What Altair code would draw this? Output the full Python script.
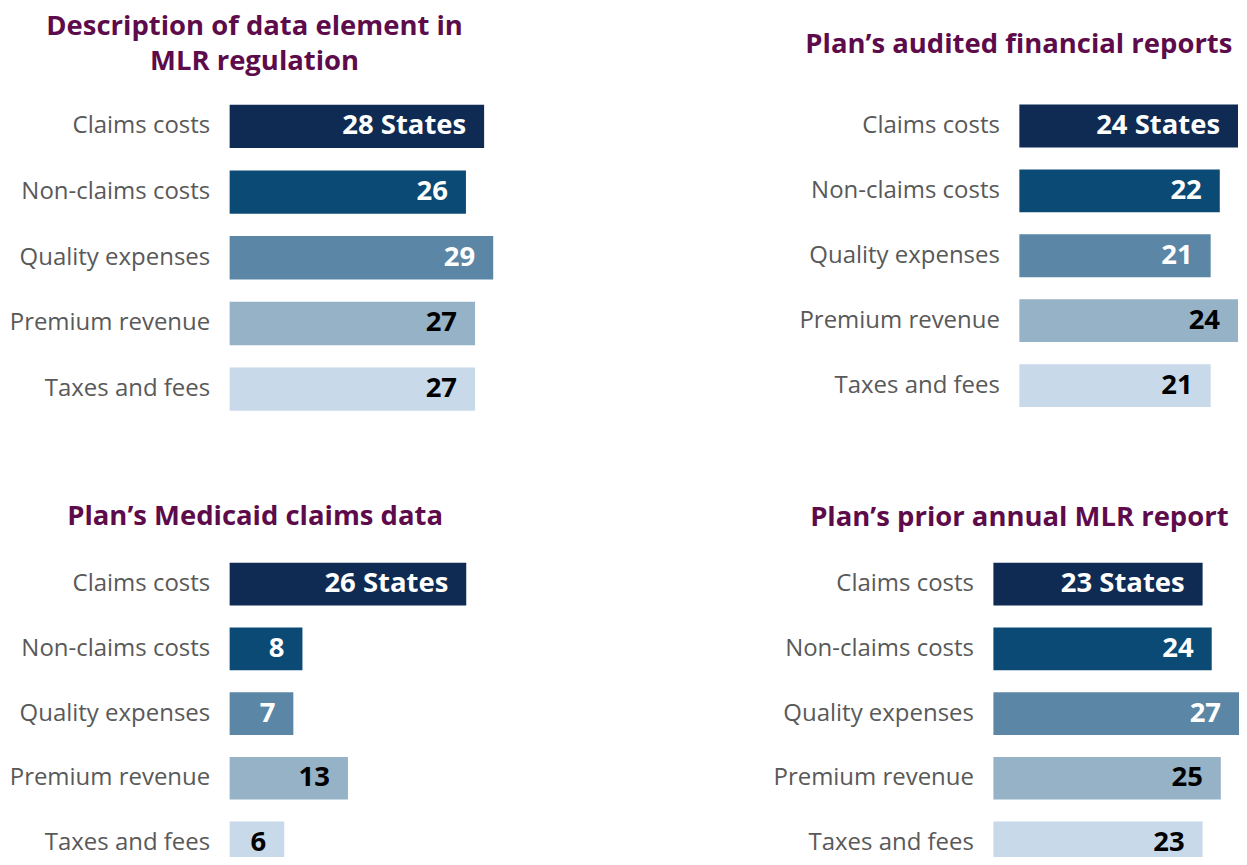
import altair as alt
import pandas as pd

categories = ["Claims costs", "Non-claims costs", "Quality expenses", "Premium revenue", "Taxes and fees"]
mlr_regulation = [28, 26, 29, 27, 27]
audited_reports = [24, 22, 21, 24, 21]
medicaid_claims = [26, 8, 7, 13, 6]
prior_mlr_report = [23, 24, 27, 25, 23]

bar_colors = ["#0F2B54", "#0B4A74", "#5B86A5", "#95B2C6", "#C8D9E9"]
dark_text_cats = ["Premium revenue", "Taxes and fees"]

FONT = "Open Sans"
TITLE_COLOR = "#5E0B4B"
LABEL_COLOR = "#595959"


def make_df(values):
    labels = [f"{v} States" if i == 0 else f"{v}" for i, v in enumerate(values)]
    return pd.DataFrame({"category": categories, "value": values, "label": labels})


def panel(values, title_lines, width, height, domain, dx, offset, axis_offset=0):
    df = make_df(values)
    base = alt.Chart(df).encode(
        y=alt.Y(
            "category:N",
            sort=categories,
            scale=alt.Scale(paddingInner=0.34, paddingOuter=0.17),
            axis=alt.Axis(
                title=None, domain=False, ticks=False, grid=False,
                labelFont=FONT, labelFontSize=24, labelColor=LABEL_COLOR,
                labelPadding=20, labelLimit=400, offset=axis_offset,
            ),
        ),
        x=alt.X("value:Q", scale=alt.Scale(domain=domain, nice=False, zero=True), axis=None),
    )
    bars = base.mark_bar().encode(
        color=alt.Color("category:N", scale=alt.Scale(domain=categories, range=bar_colors), legend=None)
    )
    text = base.mark_text(align="right", baseline="middle", dx=-18, font=FONT, fontSize=27.5, fontWeight="bold").encode(
        text="label:N",
        color=alt.condition(
            alt.FieldOneOfPredicate(field="category", oneOf=dark_text_cats),
            alt.value("#000000"),
            alt.value("#FFFFFF"),
        ),
    )
    return (bars + text).properties(
        width=width,
        height=height,
        title=alt.TitleParams(
            text=title_lines, font=FONT, fontSize=27.5, fontWeight="bold", color=TITLE_COLOR,
            anchor="middle", frame="group", dx=dx, offset=offset, lineHeight=35,
        ),
    )


tl = panel(mlr_regulation, ["Description of data element in", "MLR regulation"], 264, 329, [0, 29], -107, 18)
# right column starts at the lower panel's bar origin; the upper panel's bars begin 26px further right
tr = panel(audited_reports, ["Plan\u2019s audited financial reports"], 245, 325, [-26 / 9.125, 24], -97, 35, axis_offset=-26)
bl = panel(medicaid_claims, ["Plan\u2019s Medicaid claims data"], 237, 324, [0, 26], -93, 21)
br = panel(prior_mlr_report, ["Plan\u2019s prior annual MLR report"], 246, 324, [0, 27], -97, 20)

chart = (
    alt.concat(tl, tr, bl, br, columns=2, spacing={"row": 130, "column": 501}, bounds="flush")
    .properties(
        autosize=alt.AutoSizeParams(type="none"),
        padding={"left": 222, "top": 85, "right": 1011, "bottom": 764},
        background="#FFFFFF",
    )
    .configure_view(stroke=None)
)

chart.save("out.html", embed_options={"renderer": "svg", "actions": False})
